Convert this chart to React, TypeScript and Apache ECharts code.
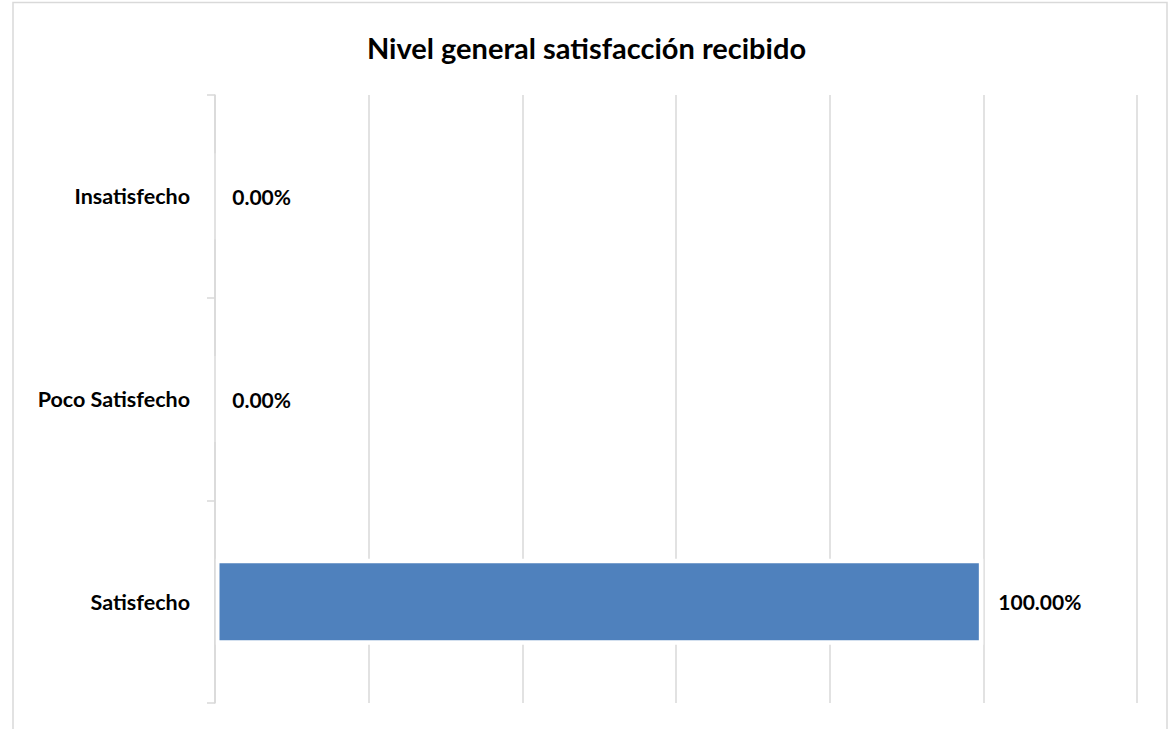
import React, { useEffect, useRef } from "react";
import * as echarts from "echarts";

const title = "Nivel general satisfacción recibido";
const categories = ["Satisfecho", "Poco Satisfecho", "Insatisfecho"];
const values = [1.0, 0.0, 0.0];
const axisMin = 0;
const axisMax = 1.2;
const axisStep = 0.2;

export default function App() {
  const ref = useRef<HTMLDivElement>(null);
  useEffect(() => {
    if (!ref.current) return;
    const chart = echarts.init(ref.current, null, { renderer: "svg" });
    const font = "Lato, 'Noto Sans', sans-serif";
    chart.setOption({
      animation: false,
      backgroundColor: "#ffffff",
      title: {
        text: title,
        left: "center",
        top: 28,
        textStyle: { fontFamily: font, fontWeight: "bold", fontSize: 29, color: "#000" },
      },
      graphic: [
        {
          type: "rect",
          shape: { x: 13, y: 2.5, width: 1154, height: 760 },
          style: { fill: "none", stroke: "#d9d9d9", lineWidth: 1.5 },
          silent: true,
        },
      ],
      grid: { left: 215, right: 36, top: 95, bottom: 26, containLabel: false },
      xAxis: {
        type: "value",
        min: axisMin,
        max: axisMax,
        interval: axisStep,
        axisLabel: { show: false },
        axisLine: { show: false },
        axisTick: { show: false },
        splitLine: { show: true, lineStyle: { color: "#d9d9d9", width: 1.5 } },
      },
      yAxis: {
        type: "category",
        data: categories,
        z: 5,
        axisLine: { show: true, lineStyle: { color: "#d9d9d9", width: 1.5 } },
        axisTick: { show: true, length: 8, lineStyle: { color: "#d9d9d9", width: 1.5 } },
        axisLabel: {
          margin: 25,
          fontFamily: font,
          fontWeight: "bold",
          fontSize: 21.5,
          color: "#000",
          padding: [0, 0, 6, 0],
        },
      },
      series: [
        {
          type: "bar",
          data: values,
          barWidth: 86,
          itemStyle: { color: "#4f81bd", borderColor: "#ffffff", borderWidth: 4.5 },
          label: {
            show: true,
            position: "right",
            distance: 15,
            formatter: (p: any) => (p.value * 100).toFixed(2) + "%",
            fontFamily: font,
            fontWeight: "bold",
            fontSize: 21,
            color: "#000",
            padding: [0, 0, 8, 0],
          },
        },
      ],
    });
    return () => chart.dispose();
  }, []);
  return (
    <div
      ref={ref}
      style={{ position: "fixed", left: 0, top: 0, width: 1173, height: 729 }}
    />
  );
}
